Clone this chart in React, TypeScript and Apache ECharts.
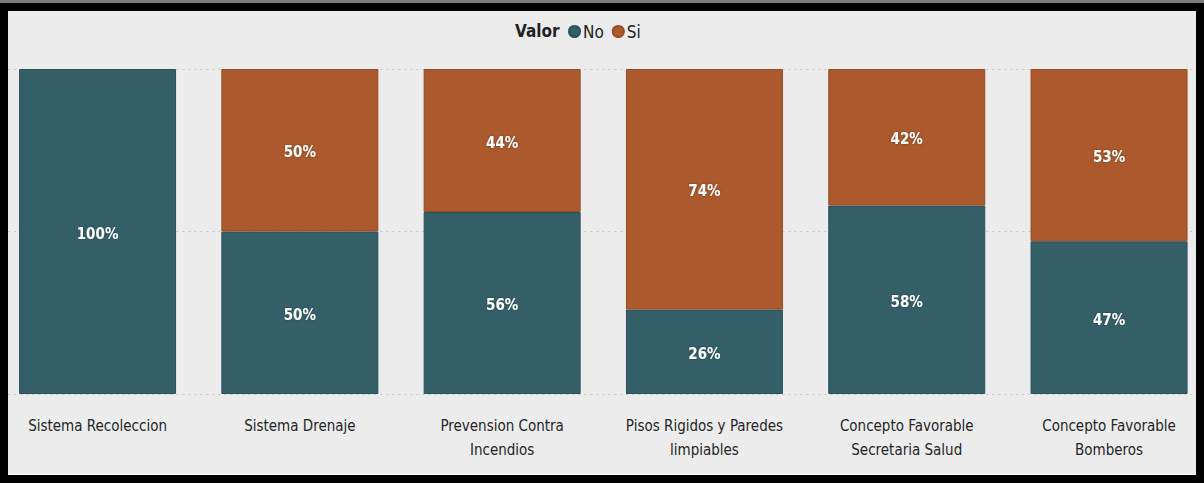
import React, { useEffect, useRef } from "react";
import * as echarts from "echarts";

const categories = [
  "Sistema Recoleccion",
  "Sistema Drenaje",
  "Prevension Contra Incendios",
  "Pisos Rigidos y Paredes limpiables",
  "Concepto Favorable Secretaria Salud",
  "Concepto Favorable Bomberos",
];
const tickLabels = [
  "Sistema Recoleccion",
  "Sistema Drenaje",
  "Prevension Contra\nIncendios",
  "Pisos Rigidos y Paredes\nlimpiables",
  "Concepto Favorable\nSecretaria Salud",
  "Concepto Favorable\nBomberos",
];
const noValues = [100, 50, 56, 26, 58, 47];
const siValues = [0, 50, 44, 74, 42, 53];
const yTicks = [0, 50, 100];

const FONT = "'DejaVu Sans Condensed', 'DejaVu Sans', sans-serif";
const NO_COLOR = "#345f69";
const SI_COLOR = "#ab592d";

export default function App() {
  const ref = useRef<HTMLDivElement>(null);
  useEffect(() => {
    if (!ref.current) return;
    const chart = echarts.init(ref.current, null, { renderer: "svg" });
    const labelStyle = {
      show: true,
      position: "inside" as const,
      offset: [0, 2],
      color: "#ffffff",
      fontFamily: FONT,
      fontWeight: "bold" as const,
      fontSize: 15,
      textShadowColor: "rgba(0,0,0,0.35)",
      textShadowBlur: 2,
      formatter: (p: any) => (p.value > 0 ? p.value + "%" : ""),
    };
    chart.setOption({
      animation: false,
      backgroundColor: "#ececec",
      textStyle: { fontFamily: FONT },
      graphic: [
        {
          type: "text",
          left: 527,
          top: 11,
          style: {
            text: "Valor",
            fontFamily: FONT,
            fontWeight: "bold",
            fontSize: 17,
            fill: "#222222",
          },
        },
      ],
      legend: {
        left: 580,
        top: 12,
        padding: 0,
        itemWidth: 11,
        itemHeight: 11,
        itemGap: 8,
        icon: "circle",
        textStyle: { fontFamily: FONT, fontSize: 17, color: "#222222", padding: [0, 0, 0, -2] },
        data: ["No", "Si"],
      },
      grid: { left: 8.4, top: 58, width: 1213.8, height: 325, containLabel: false },
      xAxis: {
        type: "category",
        data: categories,
        axisLine: { show: false },
        axisTick: { show: false },
        axisLabel: {
          interval: 0,
          margin: 20,
          fontFamily: FONT,
          fontSize: 15,
          lineHeight: 24,
          color: "#252525",
          formatter: (_v: string, i: number) => tickLabels[i],
        },
      },
      yAxis: {
        type: "value",
        min: yTicks[0],
        max: yTicks[yTicks.length - 1],
        interval: 50,
        axisLabel: { show: false },
        axisLine: { show: false },
        axisTick: { show: false },
        splitLine: { show: true, lineStyle: { type: [2, 4], color: "#c6c6c6", width: 1 } },
      },
      series: [
        {
          name: "No",
          type: "bar",
          stack: "total",
          barWidth: 157,
          data: noValues.map((v) => (v === 0 ? null : v)),
          itemStyle: { color: NO_COLOR, borderColor: "#2b525b", borderWidth: 1 },
          label: labelStyle,
        },
        {
          name: "Si",
          type: "bar",
          stack: "total",
          barWidth: 157,
          data: siValues.map((v) => (v === 0 ? null : v)),
          itemStyle: { color: SI_COLOR, borderColor: "#964c25", borderWidth: 1 },
          label: labelStyle,
        },
      ],
    });
    return () => chart.dispose();
  }, []);
  return (
    <div
      style={{
        position: "fixed",
        left: 0,
        top: 0,
        width: 1204,
        height: 483,
        background: "#000000",
        borderTop: "3px solid #7d7d7d",
        boxSizing: "border-box",
      }}
    >
      <div
        style={{
          position: "absolute",
          left: 8,
          top: 8,
          width: 1188,
          height: 463,
          overflow: "hidden",
          background: "#ececec",
          borderBottom: "1px solid #fafafa",
        }}
      >
        <div
          ref={ref}
          style={{ position: "absolute", left: -20, top: 0, width: 1228, height: 463 }}
        />
      </div>
    </div>
  );
}
